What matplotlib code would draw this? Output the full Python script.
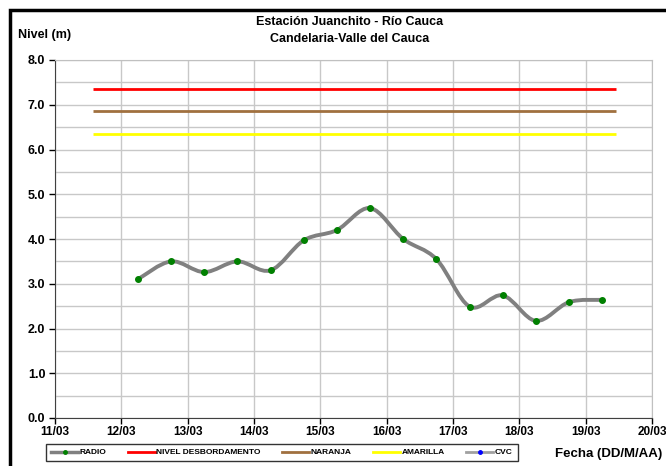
import matplotlib.pyplot as plt
from matplotlib.path import Path
from matplotlib.patches import PathPatch, Rectangle
from matplotlib.lines import Line2D

plt.rcParams['font.family'] = ['Liberation Sans', 'DejaVu Sans']
plt.rcParams['font.weight'] = 'bold'

# Data (x in days since 11/03 00:00)
day_labels = ['11/03', '12/03', '13/03', '14/03', '15/03', '16/03', '17/03', '18/03', '19/03', '20/03']
radio_x = [1.25, 1.75, 2.25, 2.75, 3.25, 3.75, 4.25, 4.75, 5.25, 5.75, 6.25, 6.75, 7.25, 7.75, 8.25]
radio_y = [3.10, 3.50, 3.26, 3.50, 3.30, 3.97, 4.20, 4.69, 4.00, 3.55, 2.49, 2.74, 2.17, 2.59, 2.64]
thr_x = [0.57, 8.45]
nivel_desb = 7.35
naranja = 6.85
amarilla = 6.35


def smooth_path(xs, ys):
    # Excel-like smoothed line: Catmull-Rom segments as cubic Beziers
    pts = list(zip(xs, ys))
    verts = [pts[0]]
    codes = [Path.MOVETO]
    n = len(pts)
    for i in range(n - 1):
        p0 = pts[i - 1] if i > 0 else pts[i]
        p1 = pts[i]
        p2 = pts[i + 1]
        p3 = pts[i + 2] if i + 2 < n else pts[i + 1]
        c1 = (p1[0] + (p2[0] - p0[0]) / 6, p1[1] + (p2[1] - p0[1]) / 6)
        c2 = (p2[0] - (p3[0] - p1[0]) / 6, p2[1] - (p3[1] - p1[1]) / 6)
        verts += [c1, c2, p2]
        codes += [Path.CURVE4] * 3
    return Path(verts, codes)


fig = plt.figure(figsize=(6.66, 4.66), dpi=100)
ax = fig.add_axes([55 / 666, 48 / 466, 597 / 666, 358 / 466])

# threshold lines
ax.plot(thr_x, [nivel_desb] * 2, color='#FF0000', lw=2, solid_capstyle='butt')
ax.plot(thr_x, [naranja] * 2, color='#A0703F', lw=2, solid_capstyle='butt')
ax.plot(thr_x, [amarilla] * 2, color='#FFFF00', lw=2, solid_capstyle='butt')

# radio series
ax.add_patch(PathPatch(smooth_path(radio_x, radio_y), fill=False, edgecolor='#808080', lw=2.8, zorder=3))
ax.plot(radio_x, radio_y, ls='none', marker='o', ms=4, color='#008000', zorder=4)

ax.set_xlim(0, 9)
ax.set_ylim(0, 8)
ax.set_xticks(range(10))
ax.set_xticklabels(day_labels)
ax.set_yticks(range(9))
ax.set_yticklabels([f'{v:.1f}' for v in range(9)])
ax.set_yticks([v + 0.5 for v in range(8)], minor=True)
ax.tick_params(axis='y', which='minor', length=0)
ax.tick_params(axis='x', labelsize=8.5, length=4, width=1, pad=2)
ax.tick_params(axis='y', labelsize=9, length=4, width=1, pad=3)
ax.grid(True, which='both', color='#C8C8C8', lw=1)
ax.set_axisbelow(True)
for s in ['top', 'right']:
    ax.spines[s].set_color('#C0C0C0')
for s in ['left', 'bottom']:
    ax.spines[s].set_color('#404040')

fig.text(350 / 666, 1 - 22 / 466, 'Estación Juanchito - Río Cauca', ha='center', va='center', fontsize=9)
fig.text(350 / 666, 1 - 39 / 466, 'Candelaria-Valle del Cauca', ha='center', va='center', fontsize=9)
fig.text(18 / 666, 1 - 35 / 466, 'Nivel (m)', ha='left', va='center', fontsize=9)
fig.text(555 / 666, 1 - 454 / 466, 'Fecha (DD/M/AA)', ha='left', va='center', fontsize=9.5)

# legend
handles = [
    Line2D([], [], color='#808080', lw=2.5, marker='o', ms=2.5, mfc='#008000', mec='#008000'),
    Line2D([], [], color='#FF0000', lw=2),
    Line2D([], [], color='#A0703F', lw=2),
    Line2D([], [], color='#FFFF00', lw=2),
    Line2D([], [], color='#A0A0A0', lw=2, marker='o', ms=2.5, mfc='#0000FF', mec='#0000FF'),
]
labels = ['RADIO', 'NIVEL DESBORDAMENTO', 'NARANJA', 'AMARILLA', 'CVC']
leg = fig.legend(handles, labels, loc='center', bbox_to_anchor=(282 / 666, 1 - 452.5 / 466), ncol=5,
                 fontsize=6, frameon=True, fancybox=False, edgecolor='black', handlelength=3.2,
                 handletextpad=0.2, columnspacing=2.6, borderpad=0.6, borderaxespad=0)
leg.get_frame().set_linewidth(1)

# outer frame (chart is cropped on the right and bottom)
fig.add_artist(Rectangle((10 / 666, -0.5), 2, 0.5 + 456 / 466, transform=fig.transFigure,
                         fill=False, edgecolor='black', lw=2.5))

plt.savefig('out.png', dpi=100)
